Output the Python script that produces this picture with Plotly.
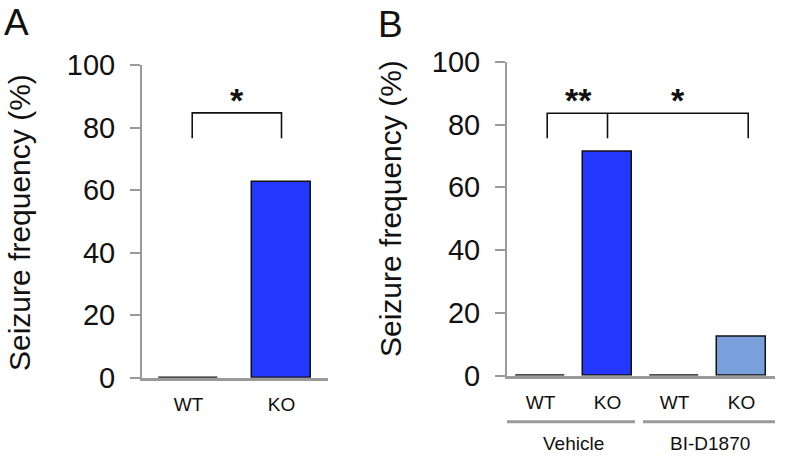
import plotly.graph_objects as go

W, H = 796, 458
OFF = 0  # body margin removed via post_script

# Data
cats_a = ["WT", "KO"]
vals_a = [0, 62.5]
colors_a = ["#2438FF", "#2438FF"]

cats_b = ["WT-V", "KO-V", "WT-B", "KO-B"]
labels_b = ["WT", "KO", "WT", "KO"]
vals_b = [0, 71.4, 0, 12.5]
colors_b = ["#2438FF", "#2438FF", "#7AA0DC", "#7AA0DC"]

groups_b = ["Vehicle", "BI-D1870"]
yticks = [0, 20, 40, 60, 80, 100]
ytitle = "Seizure frequency (%)"

FONT = "Liberation Sans, Arial, sans-serif"
AX = "#9a9a9a"

fig = go.Figure()
fig.add_trace(go.Bar(x=cats_a, y=vals_a, marker=dict(color=colors_a, line=dict(color="#111", width=1.5)),
                     width=0.64, xaxis="x", yaxis="y", showlegend=False))
fig.add_trace(go.Bar(x=cats_b, y=vals_b, marker=dict(color=colors_b, line=dict(color="#111", width=1.5)),
                     width=0.73, xaxis="x2", yaxis="y2", showlegend=False))

def px(x):
    return (x - OFF) / W

def py(y):
    return 1 - (y - OFF) / H

yax = dict(range=[0, 100], tickvals=yticks, showline=True, linecolor=AX, linewidth=2,
           ticks="outside", ticklen=10, tickwidth=2, tickcolor=AX, showgrid=False, zeroline=False,
           tickfont=dict(size=29, color="#111", family=FONT), ticklabelstandoff=9, automargin=False)
xax = dict(type="category", showline=True, linecolor=AX, linewidth=2.5, showgrid=False,
           ticks="outside", ticklen=8, tickcolor="rgba(0,0,0,0)", automargin=False,
           tickfont=dict(size=19, color="#111", family=FONT))

fig.update_layout(
    width=W, height=H, margin=dict(l=0, r=0, t=0, b=0, autoexpand=False),
    plot_bgcolor="white", paper_bgcolor="white", bargap=0,
    font=dict(family=FONT, color="#111"),
    xaxis=dict(xax, domain=[px(142), px(328)], range=[-0.5, 1.5], anchor="y"),
    yaxis=dict(yax, domain=[py(377.7), py(65)], anchor="x"),
    xaxis2=dict(xax, domain=[px(507), px(775)], range=[-0.5, 3.5], anchor="y2",
                tickvals=cats_b, ticktext=labels_b),
    yaxis2=dict(yax, domain=[py(375.7), py(61.7)], anchor="x2"),
)

line = dict(color="#111", width=1.6)
# Panel A bracket
fig.add_shape(type="path", path="M 0.04,76.6 L 0.04,84.7 L 1,84.7 L 1,76.6", xref="x", yref="y", line=line)
# Panel B bracket
fig.add_shape(type="path", path="M 0.1,75.6 L 0.1,83.6 L 3.1,83.6 L 3.1,75.6", xref="x2", yref="y2", line=line)
fig.add_shape(type="line", x0=1.0, x1=1.0, y0=75.6, y1=83.6, xref="x2", yref="y2", line=line)

star_font = dict(size=34, family=FONT, color="#111")
fig.add_annotation(x=0.52, y=82, text="<b>*</b>", xref="x", yref="y", showarrow=False,
                   xanchor="center", yanchor="bottom", font=star_font)
fig.add_annotation(x=0.56, y=81, text="<b>**</b>", xref="x2", yref="y2", showarrow=False,
                   xanchor="center", yanchor="bottom", font=star_font)
fig.add_annotation(x=2.05, y=81, text="<b>*</b>", xref="x2", yref="y2", showarrow=False,
                   xanchor="center", yanchor="bottom", font=star_font)

# group lines and labels
gline = dict(color=AX, width=3)
fig.add_shape(type="line", x0=-0.55, x1=1.41, y0=py(421.7), y1=py(421.7), xref="x2", yref="paper", line=gline)
fig.add_shape(type="line", x0=1.53, x1=3.51, y0=py(421.7), y1=py(421.7), xref="x2", yref="paper", line=gline)
for gx, g in zip([0.485, 2.53], groups_b):
    fig.add_annotation(x=gx, y=py(443), text=g, xref="x2", yref="paper", showarrow=False,
                       xanchor="center", yanchor="middle",
                       font=dict(size=19, family=FONT, color="#111"))

# axis titles
title_font = dict(size=30, family=FONT, color="#111")
fig.add_annotation(x=px(19), y=py(223), text=ytitle, textangle=-90, xref="paper", yref="paper",
                   xanchor="center", yanchor="middle", showarrow=False, font=title_font)
fig.add_annotation(x=px(390), y=py(209), text=ytitle, textangle=-90, xref="paper", yref="paper",
                   xanchor="center", yanchor="middle", showarrow=False, font=title_font)
# panel letters
letter_font = dict(size=37, family=FONT, color="#111")
fig.add_annotation(x=px(16), y=py(23), text="A", xref="paper", yref="paper", showarrow=False,
                   xanchor="center", yanchor="middle", font=letter_font)
fig.add_annotation(x=px(390), y=py(24), text="B", xref="paper", yref="paper", showarrow=False,
                   xanchor="center", yanchor="middle", font=letter_font)

fig.write_html("out.html", config={"displayModeBar": False},
               post_script="document.body.style.margin='0';document.body.style.padding='0';")
